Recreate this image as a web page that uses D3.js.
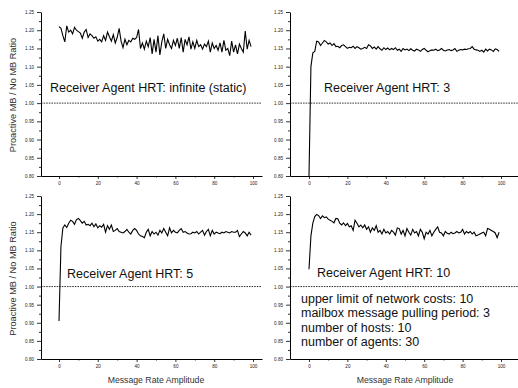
<!DOCTYPE html>
<html>
<head>
<meta charset="utf-8">
<script src="https://cdn.jsdelivr.net/npm/d3@7"></script>
<style>
  body { margin: 0; background: #fff; }
  svg { display: block; font-family: "Liberation Sans", Arial, sans-serif; }
</style>
</head>
<body>
<div id="container"></div>
<script>
// x categories: message rate amplitude 0..99
var amplitude = d3.range(0, 100);

var hrtInfinite = [1.210,1.205,1.185,1.168,1.212,1.195,1.200,1.190,1.208,1.200,
  1.196,1.192,1.178,1.195,1.202,1.180,1.190,1.185,1.178,1.182,
  1.170,1.175,1.168,1.185,1.172,1.195,1.182,1.170,1.188,1.165,
  1.180,1.205,1.170,1.152,1.175,1.160,1.172,1.168,1.178,1.175,
  1.180,1.202,1.150,1.165,1.148,1.170,1.155,1.180,1.135,1.175,
  1.140,1.185,1.132,1.168,1.190,1.150,1.175,1.160,1.150,1.172,
  1.158,1.178,1.150,1.180,1.140,1.175,1.160,1.182,1.148,1.168,
  1.150,1.172,1.155,1.160,1.148,1.162,1.155,1.170,1.140,1.165,
  1.150,1.158,1.145,1.165,1.140,1.172,1.145,1.150,1.130,1.170,
  1.140,1.160,1.135,1.162,1.150,1.140,1.198,1.148,1.172,1.155];

var hrt3 = [0.800,1.100,1.138,1.142,1.170,1.168,1.158,1.165,1.172,1.168,
  1.162,1.165,1.158,1.163,1.155,1.156,1.152,1.158,1.160,1.155,
  1.150,1.153,1.152,1.156,1.150,1.155,1.152,1.148,1.150,1.153,
  1.150,1.160,1.157,1.150,1.154,1.148,1.155,1.149,1.145,1.152,
  1.147,1.151,1.146,1.150,1.147,1.152,1.145,1.148,1.142,1.150,
  1.146,1.148,1.144,1.149,1.145,1.143,1.148,1.146,1.142,1.147,
  1.150,1.145,1.141,1.144,1.146,1.145,1.148,1.144,1.146,1.150,
  1.145,1.143,1.146,1.147,1.144,1.146,1.150,1.142,1.145,1.147,
  1.146,1.148,1.147,1.149,1.150,1.155,1.148,1.146,1.145,1.142,
  1.145,1.140,1.148,1.143,1.148,1.146,1.142,1.149,1.147,1.142];

var hrt5 = [0.905,1.110,1.162,1.170,1.163,1.175,1.183,1.180,1.172,1.185,
  1.188,1.182,1.175,1.180,1.170,1.172,1.168,1.175,1.165,1.173,
  1.162,1.168,1.164,1.172,1.150,1.168,1.158,1.170,1.152,1.155,
  1.160,1.152,1.150,1.148,1.152,1.158,1.150,1.145,1.155,1.160,
  1.155,1.145,1.140,1.138,1.135,1.150,1.158,1.140,1.152,1.145,
  1.150,1.142,1.155,1.148,1.160,1.150,1.140,1.162,1.148,1.155,
  1.150,1.148,1.155,1.160,1.150,1.152,1.148,1.145,1.146,1.150,
  1.148,1.152,1.145,1.150,1.155,1.142,1.152,1.158,1.140,1.155,
  1.145,1.150,1.148,1.146,1.150,1.148,1.152,1.150,1.148,1.152,
  1.150,1.150,1.155,1.138,1.145,1.152,1.148,1.140,1.150,1.142];

var hrt10 = [1.048,1.140,1.175,1.193,1.199,1.196,1.188,1.195,1.190,1.192,
  1.186,1.183,1.180,1.176,1.188,1.187,1.175,1.170,1.176,1.168,
  1.174,1.165,1.168,1.155,1.183,1.175,1.165,1.170,1.162,1.170,
  1.158,1.165,1.150,1.162,1.155,1.168,1.150,1.155,1.145,1.158,
  1.148,1.152,1.145,1.155,1.150,1.142,1.162,1.160,1.145,1.155,
  1.140,1.160,1.150,1.142,1.158,1.148,1.152,1.140,1.158,1.150,
  1.132,1.150,1.145,1.155,1.140,1.150,1.158,1.165,1.150,1.148,
  1.140,1.152,1.147,1.145,1.150,1.146,1.148,1.152,1.148,1.150,
  1.158,1.145,1.152,1.148,1.152,1.145,1.150,1.140,1.142,1.145,
  1.148,1.150,1.140,1.160,1.158,1.155,1.152,1.148,1.135,1.150];

var panelLabels = ['Receiver Agent HRT: infinite (static)', 'Receiver Agent HRT: 3',
                   'Receiver Agent HRT: 5', 'Receiver Agent HRT: 10'];
var paramLines = ['upper limit of network costs: 10', 'mailbox message pulling period: 3',
                  'number of hosts: 10', 'number of agents: 30'];

var yMajor = [0.80, 0.85, 0.90, 0.95, 1.00, 1.05, 1.10, 1.15, 1.20, 1.25];
var yMinor = [0.825, 0.875, 0.925, 0.975, 1.025, 1.075, 1.125, 1.175, 1.225];
var xMajor = [0, 20, 40, 60, 80, 100];
var xMinor = [10, 30, 50, 70, 90];

var W = 518, H = 388;
var svg = d3.select('#container').append('svg')
    .attr('width', W).attr('height', H);

// layout per column / row (pixel positions of x=0, x=100, axis extents)
var cols = [
  { left: 41, right: 262, x0: 59, x100: 253 },
  { left: 290, right: 518, x0: 309, x100: 501 }
];
var rows = [
  { top: 12, bottom: 176 },
  { top: 196, bottom: 359 }
];

var panels = [
  { data: hrtInfinite, col: 0, row: 0, label: panelLabels[0], lx: 50, ly: 92 },
  { data: hrt3, col: 1, row: 0, label: panelLabels[1], lx: 324, ly: 92 },
  { data: hrt5, col: 0, row: 1, label: panelLabels[2], lx: 67, ly: 278 },
  { data: hrt10, col: 1, row: 1, label: panelLabels[3], lx: 317, ly: 277 }
];

panels.forEach(function (p, k) {
  var c = cols[p.col], r = rows[p.row];
  var x = d3.scaleLinear().domain([0, 100]).range([c.x0, c.x100]);
  x.domain([x.invert(c.left), x.invert(c.right)]).range([c.left, c.right]);
  var y = d3.scaleLinear().domain([0.80, 1.25]).range([r.bottom, r.top]);

  var g = svg.append('g');

  g.append('clipPath').attr('id', 'clip' + k)
    .append('rect')
    .attr('x', c.left).attr('y', r.top - 2)
    .attr('width', c.right - c.left).attr('height', r.bottom - r.top + 2);

  // dashed reference line at 1.00
  g.append('line')
    .attr('x1', c.left).attr('x2', c.right)
    .attr('y1', y(1)).attr('y2', y(1))
    .attr('stroke', '#222').attr('stroke-width', 0.9)
    .attr('stroke-dasharray', '1.6,1');

  var line = d3.line()
    .x(function (d, i) { return x(amplitude[i]); })
    .y(function (d) { return y(d); });

  g.append('path')
    .datum(p.data)
    .attr('clip-path', 'url(#clip' + k + ')')
    .attr('fill', 'none')
    .attr('stroke', '#000')
    .attr('stroke-width', 1.1)
    .attr('stroke-linejoin', 'miter')
    .attr('d', line);

  // y axis
  var yAx = g.append('g').attr('transform', 'translate(' + c.left + ',0)')
    .call(d3.axisLeft(y).tickValues(yMajor).tickSize(4).tickSizeOuter(0).tickPadding(3)
      .tickFormat(d3.format('.2f')));
  g.append('g').attr('transform', 'translate(' + c.left + ',0)')
    .call(d3.axisLeft(y).tickValues(yMinor).tickSize(2).tickSizeOuter(0).tickFormat(''))
    .select('.domain').remove();

  // x axis
  var xAx = g.append('g').attr('transform', 'translate(0,' + r.bottom + ')')
    .call(d3.axisBottom(x).tickValues(xMajor).tickSize(3).tickSizeOuter(0).tickPadding(2.5));
  g.append('g').attr('transform', 'translate(0,' + r.bottom + ')')
    .call(d3.axisBottom(x).tickValues(xMinor).tickSize(1.5).tickSizeOuter(0).tickFormat(''))
    .select('.domain').remove();

  g.selectAll('.domain').attr('stroke', '#000').attr('stroke-width', 1);
  g.selectAll('.tick line').attr('stroke', '#000').attr('stroke-width', 0.8);
  g.selectAll('.tick text').attr('font-size', '4.6px').attr('fill', '#222')
    .attr('font-family', '"Liberation Sans", Arial, sans-serif');

  g.append('text')
    .attr('x', p.lx).attr('y', p.ly)
    .attr('font-size', '12.5px').attr('fill', '#111')
    .text(p.label);

  if (p.col === 0) {
    g.append('text')
      .attr('transform', 'translate(16,' + ((r.top + r.bottom) / 2 + 1) + ') rotate(-90)')
      .attr('text-anchor', 'middle')
      .attr('font-size', '9.2px').attr('fill', '#333')
      .text('Proactive MB / No MB Ratio');
  }
  if (p.row === 1) {
    g.append('text')
      .attr('x', (c.x0 + c.x100) / 2).attr('y', 383)
      .attr('text-anchor', 'middle')
      .attr('font-size', '8.7px').attr('fill', '#333')
      .text('Message Rate Amplitude');
  }
});

// simulation parameter notes in the last panel
svg.append('g').selectAll('text')
  .data(paramLines)
  .enter().append('text')
  .attr('x', 301)
  .attr('y', function (d, i) { return 303 + i * 14.3; })
  .attr('font-size', '12.5px').attr('fill', '#111')
  .text(function (d) { return d; });
</script>
</body>
</html>
